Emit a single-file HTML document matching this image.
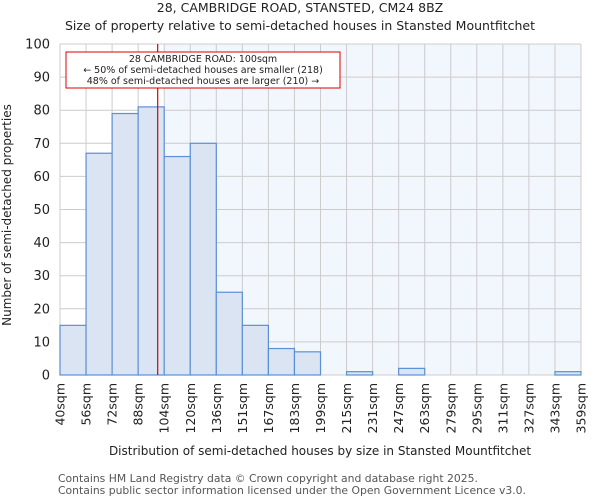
<!DOCTYPE html>
<html><head><meta charset="utf-8"><style>
body{margin:0;background:#fff;font-family:"DejaVu Sans","Liberation Sans",sans-serif}
</style></head><body>
<svg id="chart" width="600" height="500" xmlns="http://www.w3.org/2000/svg" font-family="DejaVu Sans, Liberation Sans, sans-serif">
<text x="300" y="12" text-anchor="middle" font-size="12.5" fill="#222">28, CAMBRIDGE ROAD, STANSTED, CM24 8BZ</text>
<text x="300" y="30" text-anchor="middle" font-size="12.5" fill="#222">Size of property relative to semi-detached houses in Stansted Mountfitchet</text>
<g id="plot"></g>
<text x="320" y="455" text-anchor="middle" font-size="12" fill="#222">Distribution of semi-detached houses by size in Stansted Mountfitchet</text>
<text transform="translate(11,215) rotate(-90)" text-anchor="middle" font-size="12" fill="#222">Number of semi-detached properties</text>
<text x="58" y="482" font-size="10.8" fill="#555">Contains HM Land Registry data © Crown copyright and database right 2025.</text>
<text x="58" y="494" font-size="10.8" fill="#555">Contains public sector information licensed under the Open Government Licence v3.0.</text>
</svg>
<script>
const tickLabels=["40sqm","56sqm","72sqm","88sqm","104sqm","120sqm","136sqm","151sqm","167sqm","183sqm","199sqm","215sqm","231sqm","247sqm","263sqm","279sqm","295sqm","311sqm","327sqm","343sqm","359sqm"];
const counts=[15,67,79,81,66,70,25,15,8,7,0,1,0,2,0,0,0,0,0,1];
const yTicks=[0,10,20,30,40,50,60,70,80,90,100];
const propertyIndex=3.75; // 100sqm within bins
const highlightEdge=4;
const NS="http://www.w3.org/2000/svg";
const X0=60,X1=581,Y0=375,Y1=44;
const bw=(X1-X0)/counts.length;
const xs=i=>X0+i*bw;
const ys=v=>Y0-(v/100)*(Y0-Y1);
const g=document.getElementById('plot');
function mk(t,a){const e=document.createElementNS(NS,t);for(const k in a)e.setAttribute(k,a[k]);g.appendChild(e);return e;}
let e=mk('rect',{x:xs(highlightEdge),y:Y1,width:X1-xs(highlightEdge),height:Y0-Y1,fill:'#f2f6fd'});


yTicks.forEach(v=>{
 let l=mk('line',{x1:X0,x2:X1,y1:ys(v),y2:ys(v),stroke:'#cccccc','stroke-width':1});
 
 
 let t=mk('text',{x:50,y:ys(v)+4.5,'text-anchor':'end','font-size':13,fill:'#222'});
 t.textContent=v;
 
 
});
tickLabels.forEach((s,i)=>{
 let l=mk('line',{x1:xs(i),x2:xs(i),y1:Y1,y2:Y0,stroke:'#cccccc','stroke-width':1});
 
 
 let t=mk('text',{transform:`translate(${xs(i)+4.5},383) rotate(-90)`,'text-anchor':'end','font-size':12.5,fill:'#222'});
 t.textContent=s;
 
 
});
counts.forEach((v,i)=>{
 if(v<=0)return;
 let r=mk('rect',{x:xs(i),y:ys(v),width:bw,height:Y0-ys(v),fill:'#dae4f3',stroke:'#5b8fd6','stroke-width':1.2});
 
 
});
let rl=mk('line',{x1:xs(propertyIndex),x2:xs(propertyIndex),y1:Y1,y2:Y0,stroke:'#dd0000','stroke-width':1.2});


let box=mk('rect',{x:66,y:52,width:274,height:36,fill:'#fff',stroke:'#dd0000','stroke-width':1});


["28 CAMBRIDGE ROAD: 100sqm","← 50% of semi-detached houses are smaller (218)","48% of semi-detached houses are larger (210) →"].forEach((s,i)=>{
 let t=mk('text',{x:203,y:62+i*11,'text-anchor':'middle','font-size':9.5,fill:'#222'});
 t.textContent=s;
 
 
});
</script>
</body></html>
